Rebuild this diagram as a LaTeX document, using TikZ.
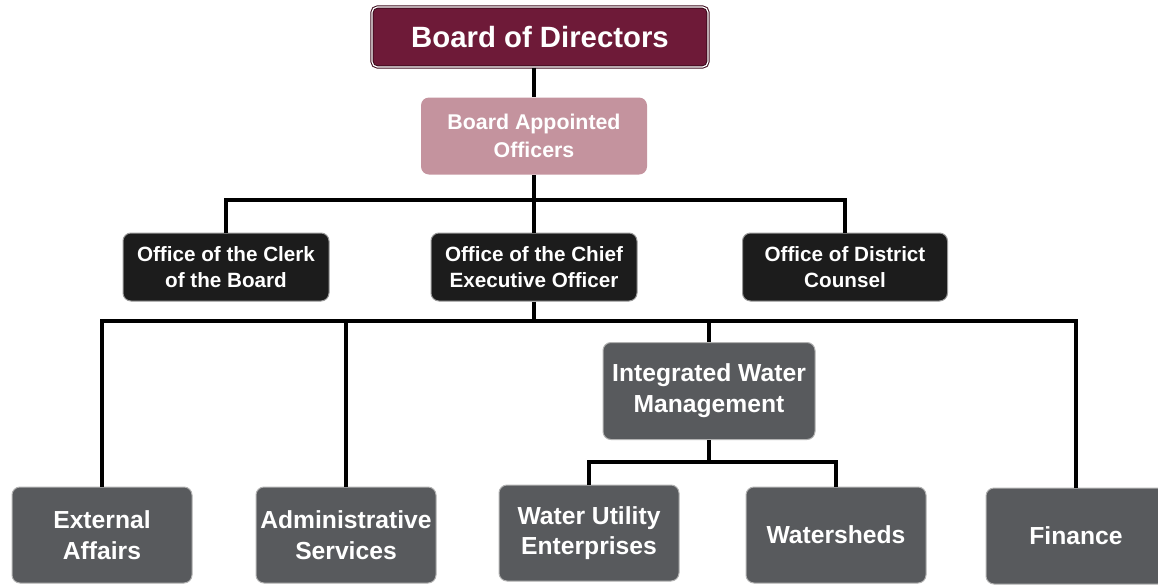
\documentclass[tikz,border=0pt]{standalone}
\usepackage{fontspec}
\newfontfamily\orgfont{Liberation Sans}
\definecolor{boardred}{RGB}{110,26,56}
\definecolor{boardedge}{RGB}{60,10,28}
\definecolor{officerpink}{RGB}{196,147,158}
\definecolor{officeblack}{RGB}{28,28,28}
\definecolor{unitgrey}{RGB}{88,90,93}

\tikzset{every picture/.style={line width=0.75pt}}
\tikzset{
  orgbox/.style={rounded corners=6pt, align=center, text=white, inner sep=0pt},
  boardbox/.style={orgbox, rounded corners=4pt, fill=boardred, draw=boardedge, double=white, double distance=0.9pt,
    minimum width=252pt, minimum height=45pt, font=\orgfont\bfseries\fontsize{22}{26}\selectfont},
  officerbox/.style={orgbox, fill=officerpink, minimum width=169.5pt, minimum height=57.75pt,
    font=\orgfont\bfseries\fontsize{16}{21}\selectfont},
  officebox/.style={orgbox, fill=officeblack, draw=black!40, minimum width=154.5pt, minimum height=51pt,
    font=\orgfont\bfseries\fontsize{15.5}{19.5}\selectfont},
  unitbox/.style={orgbox, fill=unitgrey, draw=black!30, minimum width=135pt, minimum height=72pt,
    font=\orgfont\bfseries\fontsize{18.5}{23}\selectfont},
  link/.style={line width=2.6pt}
}

\begin{document}
\begin{tikzpicture}[x=0.75pt,y=0.75pt,yscale=-1,xscale=1]
	\path[use as bounding box] (0,0) rectangle (1158,586);

	% Text Node
	\node[boardbox] (bod) at (540,37) {Board of Directors};
	% Text Node
	\node[officerbox] (bao) at (534,136) {Board Appointed\\Officers};
	% Text Node
	\node[officebox] (clerk) at (226,267) {Office of the Clerk\\of the Board};
	% Text Node
	\node[officebox] (ceo) at (534,267) {Office of the Chief\\Executive Officer};
	% Text Node
	\node[officebox, minimum width=153.75pt] (counsel) at (845,267) {Office of District\\Counsel};
	% Text Node
	\node[unitbox, minimum width=159pt, minimum height=72.75pt] (iwm) at (709,391) {Integrated Water\\Management};
	% Text Node
	\node[unitbox] (ext) at (102,535) {External\\Affairs};
	% Text Node
	\node[unitbox] (adm) at (346,535) {Administrative\\Services};
	% Text Node
	\node[unitbox] (wue) at (589,533) {Water Utility\\Enterprises};
	% Text Node
	\node[unitbox] (wsh) at (836,535) {Watersheds};
	% Text Node
	\node[unitbox] (fin) at (1076,536) {Finance};

	% bus levels
	\coordinate (topbus) at (0,200);
	\coordinate (midbus) at (0,321);
	\coordinate (lowbus) at (0,462);

	%Straight Lines
	\draw[link] (bod.south -| bao.north) -- (bao.north);
	\draw[link] (bao.south) -- (ceo.north);
	\draw[link] (clerk.north) -- (clerk.north |- topbus) -- (counsel.north |- topbus) -- (counsel.north);
	%Straight Lines
	\draw[link] (ceo.south) -- (ceo.south |- midbus);
	\draw[link] (ext.north) -- (ext.north |- midbus) -- (fin.north |- midbus) -- (fin.north);
	\draw[link] (adm.north) -- (adm.north |- midbus);
	\draw[link] (iwm.north) -- (iwm.north |- midbus);
	%Straight Lines
	\draw[link] (iwm.south) -- (iwm.south |- lowbus);
	\draw[link] (wue.north) -- (wue.north |- lowbus) -- (wsh.north |- lowbus) -- (wsh.north);

\end{tikzpicture}
\end{document}
